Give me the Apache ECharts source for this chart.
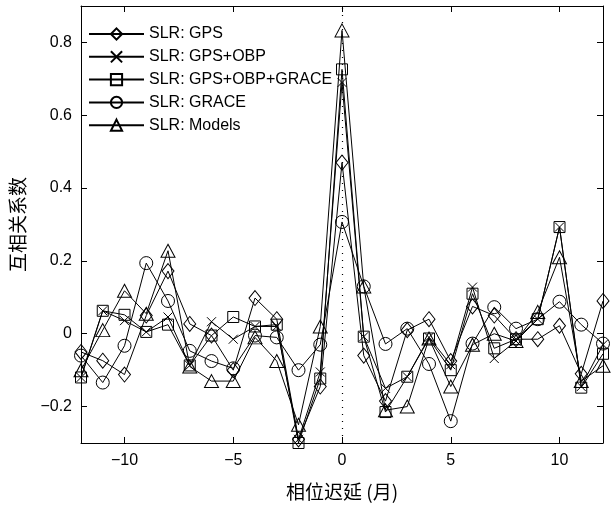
<!DOCTYPE html>
<html>
<head>
<meta charset="utf-8">
<script src="https://cdn.jsdelivr.net/npm/echarts@6/dist/echarts.min.js"></script>
<style>html,body{margin:0;padding:0;background:#fff}#c{width:613px;height:506px}</style>
</head>
<body>
<div id="c"></div>
<script>
const lags = [-12,-11,-10,-9,-8,-7,-6,-5,-4,-3,-2,-1,0,1,2,3,4,5,6,7,8,9,10,11,12];
const seriesNames = ['SLR: GPS','SLR: GPS+OBP','SLR: GPS+OBP+GRACE','SLR: GRACE','SLR: Models'];
const gps      = [-0.05,-0.074,-0.112,0.05,0.172,0.027,-0.005,-0.1,0.098,0.04,-0.29,-0.145,0.47,-0.06,-0.185,0.01,0.04,-0.075,0.075,0.05,-0.015,-0.015,0.022,-0.11,0.09];
const gpsObp   = [-0.12,0.063,0.036,0.005,0.046,-0.087,0.033,-0.015,0.02,0.02,-0.29,-0.105,0.69,-0.008,-0.15,-0.118,-0.01,-0.085,0.128,-0.068,-0.02,0.04,0.293,-0.145,-0.03];
const gpsObpGr = [-0.12,0.063,0.052,0.005,0.025,-0.087,-0.005,0.046,0.02,0.025,-0.3,-0.123,0.726,-0.008,-0.215,-0.118,-0.013,-0.1,0.11,-0.04,-0.015,0.04,0.293,-0.148,-0.055];
const grace    = [-0.06,-0.134,-0.033,0.194,0.09,-0.047,-0.075,-0.095,-0.005,-0.01,-0.1,-0.03,0.307,0.13,-0.028,0.014,-0.083,-0.24,-0.027,0.073,0.014,0.04,0.088,0.025,-0.027];
const models   = [-0.1,0.01,0.118,0.055,0.228,-0.09,-0.13,-0.13,-0.01,-0.075,-0.25,0.02,0.833,0.13,-0.21,-0.2,-0.013,-0.145,-0.03,0.0,-0.02,0.06,0.21,-0.13,-0.088];
const xTicks = [-10,-5,0,5,10];
const yTicks = [-0.2,0,0.2,0.4,0.6,0.8];

const values = [gps, gpsObp, gpsObpGr, grace, models];
const symbols = ['diamond','path://M0 0L10 10M10 0L0 10','rect','circle','triangle'];
const sizes = [[12,15],9,11,13,[14,13]];
const font = '"Liberation Sans", Arial, sans-serif';
const cjk = '"Noto Sans CJK SC", sans-serif';
const fmt = v => (v < 0 ? '\u2212' + String(Math.abs(v)) : String(v));

const chart = echarts.init(document.getElementById('c'), null, {renderer:'canvas'});
const series = values.map((arr, i) => ({
  name: seriesNames[i],
  type: 'line',
  data: arr.map((v, j) => [lags[j], v]),
  symbol: symbols[i],
  symbolSize: sizes[i],
  showAllSymbol: true,
  lineStyle: {color:'#000', width:1},
  itemStyle: {color:'rgba(0,0,0,0)', borderColor:'#000', borderWidth:1},
  emphasis: {disabled:true},
  z: 3
}));
series[0].markLine = {
  silent: true, symbol: 'none', label: {show:false},
  lineStyle: {color:'#000', type:[1,6], width:1.2},
  data: [{xAxis: 0}]
};

const axisBase = {
  type:'value',
  axisLine:{show:true, onZero:false, lineStyle:{color:'#000', width:1}},
  splitLine:{show:false},
};
chart.setOption({
  animation:false,
  backgroundColor:'#fff',
  grid:{left:81, right:10, top:6, bottom:60, containLabel:false},
  legend:{
    orient:'vertical', left:88, top:26, padding:0, itemWidth:55, itemHeight:14, itemGap:6.8,
    textStyle:{fontFamily:font, fontSize:16, color:'#000'},
    data: seriesNames
  },
  xAxis:[
    Object.assign({}, axisBase, {
      min:-12, max:12, position:'bottom',
      axisTick:{show:true, inside:true, length:6, customValues:xTicks, lineStyle:{color:'#000'}},
      axisLabel:{customValues:xTicks, formatter:fmt, fontFamily:font, fontSize:16, color:'#000', margin:10},
      name:'相位迟延 (月)', nameLocation:'middle', nameGap:39,
      nameTextStyle:{fontFamily:cjk, fontSize:19, color:'#000'}
    }),
    Object.assign({}, axisBase, {
      min:-12, max:12, position:'top',
      axisTick:{show:true, inside:true, length:6, customValues:xTicks, lineStyle:{color:'#000'}},
      axisLabel:{show:false}
    })
  ],
  yAxis:[
    Object.assign({}, axisBase, {
      min:-0.3, max:0.9, position:'left',
      axisTick:{show:true, inside:true, length:6, customValues:yTicks, lineStyle:{color:'#000'}},
      axisLabel:{customValues:yTicks, formatter:fmt, fontFamily:font, fontSize:16, color:'#000', margin:9},
      name:'互相关系数', nameLocation:'middle', nameGap:54, nameRotate:90,
      nameTextStyle:{fontFamily:cjk, fontSize:19, color:'#000'}
    }),
    Object.assign({}, axisBase, {
      min:-0.3, max:0.9, position:'right',
      axisTick:{show:true, inside:true, length:6, customValues:yTicks, lineStyle:{color:'#000'}},
      axisLabel:{show:false}
    })
  ],
  series: series
});
</script>
</body>
</html>
